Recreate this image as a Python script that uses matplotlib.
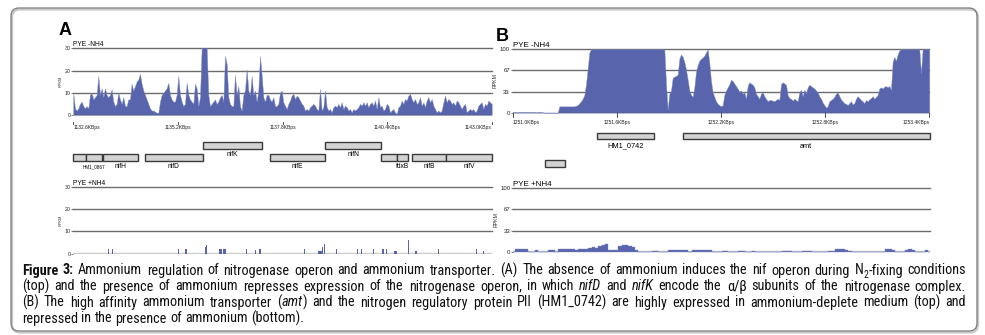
import re
import numpy as np
import matplotlib
matplotlib.use("Agg")
import matplotlib.pyplot as plt
from matplotlib import font_manager
from matplotlib.font_manager import FontProperties
from matplotlib.patches import FancyBboxPatch, Rectangle
import matplotlib.transforms as mtransforms

# ---------------- data ----------------
# panel A, PYE -NH4 coverage (RPKM), evenly spaced over 1132.6..1143.0 kb
cov_a_top = [
    9.5, 3, 2, 3, 5, 6, 4, 3, 4, 3, 9, 10, 7, 8, 9, 17.5, 9, 12, 8, 12,
    9, 8, 9, 11.5, 6, 4, 5, 10, 7, 5, 8, 4, 4, 7, 7, 14, 11, 13, 15, 16,
    18.5, 14, 11, 9, 7, 5, 3, 2, 2, 1.5, 1, 1, 6, 9, 10, 11, 12, 14.5, 9, 7,
    6, 6, 9, 17.5, 9, 6, 4, 5, 14.5, 9, 7, 6, 5, 14, 12, 4, 8, 30, 31, 31,
    30, 9, 4, 5, 6, 7, 5, 6, 8, 9, 6, 26.5, 23, 8, 5, 4, 4, 18, 9, 13,
    4, 2, 9, 11, 20.5, 11, 9, 17.5, 9, 11, 6, 11, 26.5, 18, 8, 6, 9, 9, 7, 6,
    8, 4, 4, 5, 10, 11,
    5.7, 4.2, 2.7, 5, 6.5, 8.7, 9.5, 7.2, 8.7, 8, 6.5, 5, 4.2, 2, 2.7, 2, 3.5, 4.2, 5, 4.2,
    2.7, 2, 11.7, 2, 3.5, 11, 3.5, 2, 2.7, 1.2, 3.5, 4.2, 3.5, 5, 3.5, 5.7, 2.7, 4.2, 3.5, 2,
    2.7, 1.2, 2.7, 2, 2.7, 3.5, 5, 4.2, 5.7, 4.2, 5.7, 3.5, 5, 5.7, 4.2, 6.5, 2.7, 8, 3.5, 4.2,
    2, 2.7, 5, 4.2, 1.2, 2, 2.7, 1.2, 0.5, 3.5, 4.2, 6.5, 5, 7.2, 6.5, 8.7, 9.5, 7.2, 5.7, 7.2,
    5, 5.7, 8, 4.2, 5.7, 3.5, 6.5, 8, 5.7, 7.2, 4.2, 2.7, 1.2, 2, 1.2, 2, 5.7, 8.7, 5.7, 7.2,
    6.5, 5, 5.7, 4.2, 6.5, 5.7, 4.2, 2.7, 4.2, 5, 1.2, 2, 2.7, 2, 2.7, 1.2, 2, 4.2, 5, 5.7,
    2.7, 5, 4.2, 6.5, 5.7, 5,
]

# panel A, PYE +NH4: sparse bars (kb position, RPKM, width in kb)
nh4_a_pos = [1133.47, 1133.58, 1135.21, 1135.40, 1135.88, 1135.92, 1136.26, 1136.36,
             1136.91, 1137.12, 1137.24, 1138.35, 1138.73, 1138.80, 1138.84, 1139.15,
             1139.66, 1139.77, 1140.06, 1140.30, 1140.38, 1140.60, 1140.93, 1141.12,
             1141.68, 1142.63, 1142.80]
nh4_a_val = [2, 2, 2, 2, 3, 4, 2, 2, 2, 1.5, 2, 2, 1, 3, 4.5, 2, 2, 2, 2, 2, 2, 1, 6,
             1.2, 2, 2, 1]
nh4_a_wid = [0.025, 0.025, 0.03, 0.03, 0.03, 0.025, 0.07, 0.06, 0.03, 0.025, 0.07,
             0.025, 0.1, 0.025, 0.03, 0.025, 0.03, 0.025, 0.025, 0.07, 0.025, 0.08,
             0.02, 0.04, 0.03, 0.03, 0.025]

# panel B, PYE -NH4 coverage, evenly spaced over 1251.0..1253.4 kb
cov_b_top = [
    1, 1, 1, 1, 1, 1, 1, 1, 1, 1, 1, 1, 1, 1, 0.5, 1, 1, 1, 0.5, 0,
    0, 0, 0, 0, 0, 0, 0, 0, 10, 10, 10, 10, 10, 10, 10, 10, 10, 10, 11, 12,
    15, 18, 22, 28, 45, 70, 95, 100, 100, 100, 100, 100, 100, 100, 100, 100, 100, 100, 100, 100,
    100, 100, 100, 100, 100, 100, 100, 100, 100, 100, 100, 100, 100, 100, 100, 100, 100, 100, 100, 100,
    100, 100, 100, 100, 100, 100, 100, 100, 100, 100, 100, 100, 45, 5, 30, 35, 55, 57, 58, 60,
    85, 92, 88, 80, 68, 52, 35, 28, 25, 40, 65, 75, 82, 85, 87, 90, 95, 100, 78, 50,
    32, 25, 18, 14, 12, 10, 12, 28, 35, 40, 45, 52, 50, 46, 42, 38, 33, 35, 30, 32,
    22, 42, 48, 46, 44, 40, 30, 26, 22, 30, 32, 26, 22, 18, 20, 20, 19, 18, 20, 22,
    20, 45, 48, 46, 44, 28, 23, 22, 19, 22, 20, 18, 32, 36, 26, 36, 30, 40, 44, 42,
    40, 38, 35, 32, 26, 22, 16, 12, 8, 10, 18, 20, 22, 25, 30, 32, 26, 21, 18, 15,
    14, 12, 15, 18, 13, 15, 22, 26, 23, 20, 18, 15, 20, 18, 21, 23, 26, 22, 25, 28,
    38, 40, 38, 41, 42, 40, 42, 36, 80, 88, 82, 92, 98, 100, 100, 100, 100, 100, 100, 100,
    100, 100, 100, 100, 100, 62, 100, 100, 100, 100, 100,
]

# panel B, PYE +NH4 coverage, evenly spaced over 1251.0..1253.4 kb
cov_b_bot = [
    0, 4, 4, 5, 4, 0, 0, 2, 0, 0, 0, 2, 2, 0, 4, 4, 4, 4, 4, 3,
    4, 5, 4, 6, 7, 6, 9, 11, 12, 3, 3, 3, 9, 10, 10, 9, 8, 2, 0, 0,
    0, 0, 1.5, 1.5, 0, 0, 0, 3, 3, 3, 2, 2, 2, 0, 2, 2, 2, 2, 2, 2,
    0, 0, 0, 1.5, 1.5, 0, 0, 0, 1.5, 1.5, 0, 0, 1.5, 0, 0, 0, 0, 0, 0, 0,
    0, 1.5, 1.5, 1.5, 0, 0, 0, 1.5, 1.5, 1.5, 0, 0, 0, 0, 0, 1.5, 1.5, 4, 5, 4,
    2, 1.5, 0, 0, 0, 0, 0, 0, 0, 0, 0, 0, 4, 4, 3, 0, 0, 0, 3, 4,
    2, 0, 0, 0, 2, 0,
]

# gene annotations (kb); row 0 = upper lane, row 1 = lower lane
genes_a_name = ["", "HM1_0867", "nifH", "nifD", "nifK", "nifE", "nifN", "", "fdxB", "nifB", "nifV"]
genes_a_start = [1132.59, 1132.92, 1133.35, 1134.37, 1135.82, 1137.49, 1138.86, 1140.25, 1140.65, 1141.02, 1141.86]
genes_a_end = [1132.92, 1133.31, 1134.20, 1135.83, 1137.29, 1138.86, 1140.25, 1140.65, 1140.93, 1141.86, 1143.00]
genes_a_row = [1, 1, 1, 1, 0, 1, 0, 1, 1, 1, 1]

genes_b_name = ["", "HM1_0742", "amt"]
genes_b_start = [1251.186, 1251.485, 1251.979]
genes_b_end = [1251.302, 1251.815, 1253.402]
genes_b_row = [1, 0, 0]

xticks_a = [1132.6, 1135.2, 1137.8, 1140.4, 1143.0]
xticks_b = [1251.0, 1251.6, 1252.2, 1252.8, 1253.4]
yticks_a = [0, 10, 20, 30]
yticks_b = [0, 33, 67, 100]

# **bold**, *italic*, ~subscript~
caption = [
    "**Figure 3:** Ammonium regulation of nitrogenase operon and ammonium transporter. (A) The absence of ammonium induces the nif operon during N~2~-fixing conditions",
    "(top) and the presence of ammonium represses expression of the nitrogenase operon, in which *nifD* and *nifK* encode the α/β subunits of the nitrogenase complex.",
    "(B) The high affinity ammonium transporter (*amt*) and the nitrogen regulatory protein PII (HM1_0742) are highly expressed in ammonium-deplete medium (top) and",
    "repressed in the presence of ammonium (bottom).",
]

# ---------------- styling ----------------
plt.rcParams['font.family'] = ['Liberation Sans', 'DejaVu Sans']

FILL = '#5864ac'
GRID = '#6c6c6c'


def wnum(w):
    if isinstance(w, (int, float)):
        return int(w)
    return {'normal': 400, 'regular': 400, 'book': 400, 'bold': 700}.get(str(w).lower(), 400)


def caption_fonts():
    # look for a narrow / condensed sans for the caption, else plain Liberation Sans
    ents = font_manager.fontManager.ttflist

    def narrowish(f):
        return ('Narrow' in f.name or 'Condensed' in f.name
                or str(f.stretch) in ('condensed', 'semi-condensed', 'extra-condensed'))
    groups = {}
    for f in ents:
        if narrowish(f) and f.fname.lower().endswith(('.ttf', '.otf')):
            groups.setdefault((f.name, str(f.stretch)), []).append(f)
    order = ['Liberation Sans Narrow', 'Arial Narrow', 'Roboto Condensed',
             'Open Sans Condensed', 'Noto Sans', 'DejaVu Sans Condensed', 'DejaVu Sans']
    key = None
    for o in order:
        for k in groups:
            if k[0] == o and (key is None):
                key = k
        if key:
            break
    if key is None and groups:
        key = sorted(groups)[0]
    if key is None:
        return {'normal': FontProperties(family='Liberation Sans'),
                'bold': FontProperties(family='Liberation Sans', weight='bold'),
                'italic': FontProperties(family='Liberation Sans', style='italic')}
    fs = groups[key]

    def find(weight, italic):
        best = None
        for f in fs:
            it = f.style in ('italic', 'oblique')
            if it == italic:
                d = abs(wnum(f.weight) - weight)
                if best is None or d < best[0]:
                    best = (d, f)
        if best is None:
            best = (0, fs[0])
        return FontProperties(fname=best[1].fname)
    return {'normal': find(400, False), 'bold': find(700, False), 'italic': find(400, True)}


CAP = caption_fonts()

W, H = 985, 335
fig = plt.figure(figsize=(W / 100, H / 100), dpi=100)


def box(l, t, r, b):
    return [l / W, 1 - b / H, (r - l) / W, (b - t) / H]


# background axes in pixel units: frame, letters, caption
bg = fig.add_axes([0, 0, 1, 1])
bg.set_xlim(0, W)
bg.set_ylim(H, 0)
bg.axis('off')
bg.add_patch(FancyBboxPatch((12, 9.5), 966, 323, boxstyle='round,pad=0,rounding_size=8',
                            fc='none', ec='#c8c8c8', lw=1.6))
bg.add_patch(FancyBboxPatch((11, 8), 966, 323, boxstyle='round,pad=0,rounding_size=8',
                            fc='none', ec='#7a7a7a', lw=0.9))
bg.text(59, 35, "A", fontsize=13, fontweight='bold', va='baseline')
bg.text(496, 40.7, "B", fontsize=13, fontweight='bold', va='baseline')


def track(l, t, r, b, xlim, ymax, yticks, ysize, top, title, tsize, rsize):
    ax = fig.add_axes(box(l, t, r, b))
    ax.set_facecolor('none')
    ax.set_xlim(xlim)
    ax.set_ylim(0, ymax)
    for s in ax.spines.values():
        s.set_visible(False)
    ax.set_xticks([])
    ax.set_yticks(yticks)
    ax.set_yticklabels([str(v) for v in yticks], fontsize=ysize, color='#222')
    ax.tick_params(axis='y', length=1.5, width=0.5, pad=0.5, color='#444')
    for v in yticks[1:]:
        ax.axhline(v, color=GRID, lw=1.0, zorder=0, clip_on=False)
    if top:
        ax.axhline(0, color='#555', lw=1.0, zorder=3)
    else:
        ax.axhline(0, color='#cccccc', lw=2.5, zorder=0)
    ax.set_ylabel("RPKM", fontsize=rsize, labelpad=1.5, color='#333')
    ax.text(0, 1.0, title, transform=ax.transAxes, fontsize=tsize, va='bottom', ha='left')
    return ax


def xtick_marks(ax, ticks, m0, m1, ly, size):
    tr = mtransforms.blended_transform_factory(ax.transData, ax.transAxes)
    n = len(ticks)
    for i, v in enumerate(ticks):
        ax.plot([v, v], [m0, m1], color='#333', lw=0.6, transform=tr, clip_on=False)
        ha = 'left' if i == 0 else ('right' if i == n - 1 else 'center')
        ax.text(v, ly, "%.1fKBps" % v, transform=tr, ha=ha, va='center',
                fontsize=size, color='#222')


def genes(l, t, r, b, xlim, gname, gs, ge, grow, row_top, row_h, lab_y, size):
    ax = fig.add_axes(box(l, t, r, b))
    ax.set_facecolor('none')
    ax.set_xlim(xlim)
    ax.set_ylim(b, t)
    ax.axis('off')
    for n, s, e, rw in zip(gname, gs, ge, grow):
        ax.add_patch(Rectangle((s, row_top[rw]), e - s, row_h[rw], fc='#d3d3d3',
                               ec='#3a3a3a', lw=1.0, clip_on=False))
        if n:
            fs = size * 0.7 if n.startswith("HM1_08") else size
            ax.text((s + e) / 2, lab_y[rw], n, ha='center', va='center', fontsize=fs)
    return ax


xl_a = (xticks_a[0], xticks_a[-1])
xl_b = (xticks_b[0], xticks_b[-1])

# panel A top
ax = track(73.3, 48.3, 491.7, 115, xl_a, 30, yticks_a, 3.8, True, "PYE -NH4", 4.8, 2.8)
xa = np.linspace(xl_a[0], xl_a[1], len(cov_a_top))
ax.fill_between(xa, cov_a_top, color=FILL, lw=0.3, ec='#7f8ac4', zorder=2)
xtick_marks(ax, xticks_a, -0.1, -0.13, -0.18, 3.6)

genes(73.3, 117, 491.7, 175, xl_a, genes_a_name, genes_a_start, genes_a_end, genes_a_row,
      {0: 141.7, 1: 154.3}, {0: 7.3, 1: 6.4}, {0: 154.3, 1: 166.5}, 4.8)

# panel A bottom
ax = track(73.3, 186.7, 491.7, 253.7, xl_a, 30, yticks_a, 3.8, False, "PYE +NH4", 4.8, 2.8)
ax.bar(nh4_a_pos, nh4_a_val, width=nh4_a_wid, color=FILL, zorder=2)

# panel B top
ax = track(512.7, 49.3, 929.3, 112.7, xl_b, 100, yticks_b, 4.3, True, "PYE -NH4", 5.8, 3.8)
xb = np.linspace(xl_b[0], xl_b[1], len(cov_b_top))
ax.fill_between(xb, cov_b_top, color=FILL, lw=0.3, ec='#7f8ac4', zorder=2)
xtick_marks(ax, xticks_b, -0.01, -0.06, -0.147, 3.6)

genes(512.7, 115, 929.3, 172, xl_b, genes_b_name, genes_b_start, genes_b_end, genes_b_row,
      {0: 132.7, 1: 160.3}, {0: 6.6, 1: 7.0}, {0: 146.0, 1: 172}, 5.3)

# panel B bottom
ax = track(513.3, 188.3, 930, 251.7, xl_b, 100, yticks_b, 4.3, False, "PYE +NH4", 5.8, 3.8)
xb2 = np.linspace(xl_b[0], xl_b[1], len(cov_b_bot))
ax.fill_between(xb2, cov_b_bot, color=FILL, lw=0.3, ec='#7f8ac4', zorder=2, step='mid')


# ---------------- caption (justified) ----------------
def parse(line):
    words = [[]]
    for seg in re.split(r'(\*\*[^*]+\*\*|\*[^*]+\*|~[^~]+~)', line):
        if not seg:
            continue
        if seg.startswith('**'):
            style, seg = 'bold', seg[2:-2]
        elif seg.startswith('*'):
            style, seg = 'italic', seg[1:-1]
        elif seg.startswith('~'):
            style, seg = 'sub', seg[1:-1]
        else:
            style = 'normal'
        for i, p in enumerate(seg.split(' ')):
            if i > 0:
                words.append([])
            if p:
                words[-1].append((p, style))
    return [w for w in words if w]


renderer = fig.canvas.get_renderer()
x0, x1 = 22, 966
baselines = [274.5, 290.5, 306.5, 322.5]


def make_words(size):
    out = []
    for line in caption:
        row = []
        for w in parse(line):
            segs = []
            for txt, st in w:
                fp = CAP['normal'] if st == 'sub' else CAP[st]
                fs = size * 0.68 if st == 'sub' else size
                t = bg.text(0, 0, txt, fontproperties=fp, fontsize=fs,
                            va='baseline', ha='left', color='#111')
                segs.append([t, t.get_window_extent(renderer).width,
                             size * 0.3 if st == 'sub' else 0])
            row.append(segs)
        out.append(row)
    return out


def clear(rows):
    for r in rows:
        for w in r:
            for s in w:
                s[0].remove()


def space_w(size):
    a = bg.text(0, 0, "a a", fontproperties=CAP['normal'], fontsize=size)
    b = bg.text(0, 0, "aa", fontproperties=CAP['normal'], fontsize=size)
    d = a.get_window_extent(renderer).width - b.get_window_extent(renderer).width
    a.remove()
    b.remove()
    return d


def natural(r, sp):
    return sum(s[1] for w in r for s in w) + sp * (len(r) - 1)


# size the caption so the widest justified line only needs a little stretching
size = 10.0
rows = make_words(size)
widest = max(natural(r, space_w(size)) for r in rows[:-1])
clear(rows)
size = size * (x1 - x0) * 0.975 / widest
rows = make_words(size)
sp_nat = space_w(size)

for i, r in enumerate(rows):
    total = sum(s[1] for w in r for s in w)
    sp = (x1 - x0 - total) / (len(r) - 1) if i < len(rows) - 1 else sp_nat
    x = x0
    for w in r:
        for t, wd, dy in w:
            t.set_position((x, baselines[i] + dy))
            x += wd
        x += sp

fig.savefig("out.png", dpi=100)
